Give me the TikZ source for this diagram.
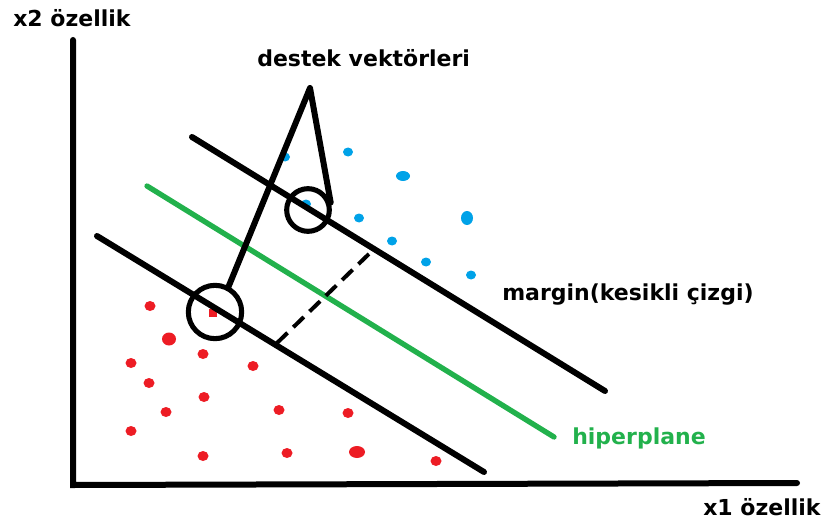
\documentclass[tikz,border=0pt]{standalone}
\usepackage{fontspec}
\setmainfont{DejaVu Sans}
\definecolor{pblue}{RGB}{0,162,232}
\definecolor{pred}{RGB}{237,28,36}
\definecolor{pgreen}{RGB}{34,177,76}
\begin{document}
\begin{tikzpicture}[x=0.75pt,y=-0.75pt,
  thickline/.style={line width=4.5pt,line cap=round,black},
  greenline/.style={line width=4pt,line cap=round,pgreen},
  ring/.style={circle,draw=black,line width=3.8pt,inner sep=0pt},
  bdot/.style={fill=pblue},
  rdot/.style={fill=pred},
  lbl/.style={font=\fontsize{16.5}{19}\selectfont\bfseries,inner sep=0pt}]
\useasboundingbox (0,0) rectangle (827,524);
% dots
\foreach \x/\y in {285/157,348/152,306/204,359/218,392/241,426/262,471/275}
  \fill[bdot] (\x,\y) ellipse (5 and 4.5);
\fill[bdot] (403,176) ellipse (7 and 5);
\fill[bdot] (467,218) ellipse (6 and 7);
\foreach \x/\y in {150/306,203/354,131/363,253/366,149/383,204/397,166/412,279/410,348/413,131/431,203/456,287/453,436/461}
  \fill[rdot] (\x,\y) ellipse (5.5 and 5);
\fill[rdot] (169,339) ellipse (7 and 6.5);
\fill[rdot] (357,452) ellipse (8 and 6);
\fill[rdot] (209,309) rectangle (217,317);
% axes
\coordinate (o) at (73,485);
\coordinate (ytop) at (73,40);
\coordinate (xend) at (797,483);
\draw[thickline] (ytop) -- (o) -- (xend);
% margin lines and hyperplane
\coordinate (u1) at (192,137); \coordinate (u2) at (605,391);
\coordinate (l1) at (97,236);  \coordinate (l2) at (484,472);
\coordinate (h1) at (147,186); \coordinate (h2) at (554,437);
\draw[thickline] (u1) -- (u2);
\draw[thickline] (l1) -- (l2);
\draw[greenline] (h1) -- (h2);
% dashed margin
\coordinate (d1) at (277,343); \coordinate (d2) at (372,251);
\draw[line width=3pt,black,dash pattern=on 11pt off 6pt] (d1) -- (d2);
% support vector circles
\node[ring,minimum size=32pt] (c1) at (308,210) {};
\node[ring,minimum size=40pt] (c2) at (215,312) {};
\coordinate (apex) at (310,88);
\draw[thickline,line join=round] (c2.62) -- (apex) -- (c1.18);
% labels
\node[lbl,anchor=west] (ly) at (13,18) {x2 özellik};
\node[lbl,anchor=west] (lsv) at (257,58) {destek vektörleri};
\node[lbl,anchor=west] (lm) at (502,295) {margin(kesikli çizgi)};
\node[lbl,anchor=west,text=pgreen] (lh) at (572,438) {hiperplane};
\node[lbl,anchor=west] (lx) at (703,507) {x1 özellik};
\end{tikzpicture}
\end{document}
